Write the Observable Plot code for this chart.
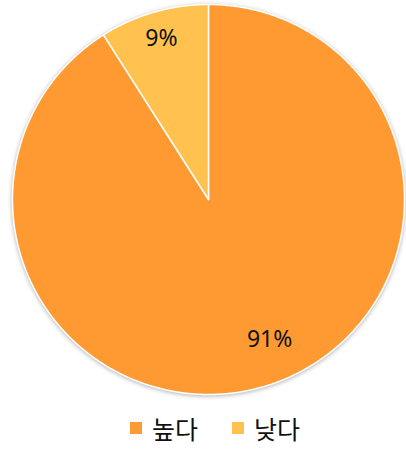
<!DOCTYPE html>
<html><head><meta charset="utf-8">
<script src="https://cdn.jsdelivr.net/npm/d3@7"></script>
<script src="https://cdn.jsdelivr.net/npm/@observablehq/plot@0.6"></script>
<style>
body{margin:0;background:#fff;font-family:"Noto Sans","Noto Sans CJK KR",sans-serif;}
#legend{display:flex;justify-content:center;margin-top:10px;padding-left:24px;}
#legend > div{justify-content:center;margin:0 !important;}
#legend span{margin-right:34px !important;}
#legend span:last-child{margin-right:0 !important;}
#legend span svg{margin-right:10px !important;}
</style></head><body><div id="chart"></div><div id="legend"></div>
<script>
const categories = ["높다", "낮다"];
const values = [91, 9];
const labels = ["91%", "9%"];
const colors = ["#FF9A33", "#FFC24F"];

const rows = categories.map((c, i) => ({category: c, value: values[i], label: labels[i]}));
const arcs = d3.pie().sort(null).value(d => d.value)(rows);

const pts = [];
arcs.forEach(s => {
  const n = Math.max(2, Math.ceil((s.endAngle - s.startAngle) / 0.005));
  pts.push({category: s.data.category, x: 0, y: 0});
  for (let k = 0; k <= n; k++) {
    const a = s.startAngle + (s.endAngle - s.startAngle) * k / n;
    pts.push({category: s.data.category, x: Math.sin(a), y: Math.cos(a)});
  }
});
// Excel-style best-fit label placement: large slices pull their label slightly toward the start edge
const labelPts = arcs.map(s => {
  const span = s.endAngle - s.startAngle;
  const big = span > Math.PI;
  const a = s.startAngle + span * (big ? 0.478 : 0.5);
  const r = big ? 0.785 : 0.86;
  return {label: s.data.label, x: r * Math.sin(a), y: r * Math.cos(a)};
});

const chart = Plot.plot({
  width: 406, height: 400,
  marginLeft: 12, marginRight: 2, marginTop: 4, marginBottom: 6,
  x: {domain: [-1, 1], axis: null},
  y: {domain: [-1, 1], axis: null},
  color: {domain: categories, range: colors},
  style: {fontFamily: "'Noto Sans','Noto Sans CJK KR',sans-serif", background: "white"},
  marks: [
    Plot.line(pts, {x: "x", y: "y", z: "category", fill: "category", stroke: "white", strokeWidth: 1.5, curve: "linear-closed"}),
    Plot.text(labelPts, {x: "x", y: "y", text: "label", fontSize: 23, fill: "#111"})
  ]
});
const g = chart.querySelector('g[aria-label="line"]');
if (g) g.style.filter = "drop-shadow(0px 1px 2px rgba(0,0,0,0.3))";
document.getElementById("chart").appendChild(chart);

const legend = Plot.legend({
  legend: "swatches",
  color: {domain: categories, range: colors},
  swatchSize: 12,
  style: {fontSize: "25px", fontFamily: "'Noto Sans CJK KR',sans-serif", color: "#111"}
});
document.getElementById("legend").appendChild(legend);
</script></body></html>
